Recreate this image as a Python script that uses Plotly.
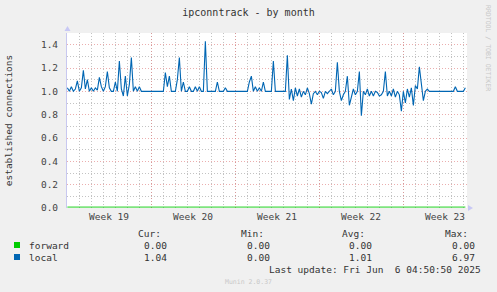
import numpy as np
import plotly.graph_objects as go

# ---- data (4-hour samples) ----
local = [
    1.03, 1.00, 1.04, 1.00, 1.02, 1.09, 1.00, 1.03, 1.18, 1.02,
    1.10, 1.00, 1.03, 1.00, 1.03, 1.01, 1.12, 1.04, 1.00, 1.04,
    1.17, 1.03, 1.00, 1.00, 1.08, 1.00, 1.26, 1.02, 0.96, 1.13,
    0.96, 1.06, 1.29, 1.00, 1.04, 1.00, 1.04, 1.00, 1.00, 1.00,
    1.00, 1.00, 1.00, 1.00, 1.00, 1.00, 1.00, 1.00, 1.00, 1.16,
    1.04, 1.13, 1.00, 1.00, 1.00, 1.10, 1.29, 1.00, 1.08, 1.00,
    1.00, 1.04, 1.00, 1.00, 1.04, 1.00, 1.04, 1.00, 1.00, 1.43,
    1.00, 1.00, 1.00, 1.00, 1.00, 1.08, 1.00, 1.00, 1.00, 1.03,
    1.00, 1.00, 1.00, 1.00, 1.00, 1.00, 1.00, 1.00, 1.00, 1.00,
    1.00, 1.08, 1.13, 1.00, 1.04, 1.00, 1.03, 1.00, 1.08, 1.00,
    1.00, 1.00, 1.00, 1.26, 1.00, 1.00, 1.00, 1.00, 1.00, 1.00,
    1.31, 0.93, 1.02, 0.92, 1.03, 0.96, 1.02, 0.95, 1.00, 0.97,
    1.03, 0.98, 0.89, 0.98, 1.00, 0.97, 1.00, 0.99, 0.94, 1.00,
    0.98, 1.00, 1.02, 0.97, 1.00, 1.25, 1.00, 0.92, 0.97, 1.00,
    1.13, 0.88, 0.96, 1.02, 0.97, 1.00, 1.17, 0.79, 1.00, 0.97,
    1.02, 0.96, 1.00, 0.96, 1.00, 0.99, 0.96, 0.97, 1.00, 1.17,
    0.96, 1.00, 0.96, 1.02, 0.95, 1.00, 0.97, 0.83, 1.00, 0.90,
    1.02, 0.95, 1.03, 0.88, 1.05, 1.02, 1.21, 1.08, 0.92, 1.00,
    1.02, 1.00, 1.00, 1.00, 1.00, 1.00, 1.00, 1.00, 1.00, 1.00,
    1.00, 1.00, 1.00, 1.00, 1.04, 1.00, 1.00, 1.00, 1.00, 1.03,
]
forward = [0.00] * len(local)
sample_days = 4 / 24.0           # sample step in days
time_days = np.arange(len(local)) * sample_days + 0.03

week_starts = [0, 7, 14, 21, 28]
week_labels = ["Week 19", "Week 20", "Week 21", "Week 22", "Week 23"]
x_span_days = 400 / 12.0

stat_headers = ["Cur:", "Min:", "Avg:", "Max:"]
stats_forward = ["0.00", "0.00", "0.00", "0.00"]
stats_local = ["1.04", "0.00", "1.01", "6.97"]
series_names = ["forward", "local"]
series_colors = ["#00cc00", "#0066b3"]

# ---- layout geometry (pixels) ----
W, H = 497, 292
L, R, T, B = 67, 30, 33, 84
PW, PH = W - L - R, H - T - B


def px(x):
    return (x - L) / PW


def py(y):
    return (H - B - y) / PH


FONT = "DejaVu Sans Mono"
TXT = "#333333"

fig = go.Figure()
fig.add_trace(go.Scatter(x=time_days, y=forward, mode="lines", name="forward",
                         line=dict(color=series_colors[0], width=3.5), opacity=0.5,
                         showlegend=False, hoverinfo="skip"))
fig.add_trace(go.Scatter(x=time_days, y=local, mode="lines", name="local",
                         line=dict(color=series_colors[1], width=1.1),
                         showlegend=False))
# carrier trace for the label axis
fig.add_trace(go.Scatter(x=[None], y=[None], xaxis="x2", showlegend=False,
                         hoverinfo="skip"))

grid_major = "rgba(225,130,130,0.65)"
grid_minor = "rgba(180,180,180,0.8)"
dash = "1px,2px"

fig.update_layout(
    width=W, height=H,
    margin=dict(l=L, r=R, t=T, b=B, autoexpand=False),
    paper_bgcolor="#f0f0f0", plot_bgcolor="#ffffff",
    font=dict(family=FONT, size=9.5, color=TXT),
    showlegend=False,
    title=dict(text="ipconntrack - by month", x=0.5, xanchor="center",
               y=1 - 12.5 / H, yanchor="middle",
               font=dict(family=FONT, size=10, color=TXT)),
    xaxis=dict(range=[0, x_span_days], tickmode="array", tickvals=week_starts,
               showticklabels=False, ticks="", showgrid=True,
               gridcolor=grid_major, griddash=dash, gridwidth=1,
               zeroline=False, showline=False,
               minor=dict(dtick=1, tick0=0, showgrid=True, gridcolor=grid_minor,
                          griddash=dash, gridwidth=1)),
    xaxis2=dict(range=[0, x_span_days], overlaying="x", side="bottom",
                anchor="y", tickmode="array",
                tickvals=[w + 3.5 for w in week_starts], ticktext=week_labels,
                showgrid=False, zeroline=False, ticks="",
                tickfont=dict(family=FONT, size=9.5, color="#444444"),
                ticklabelstandoff=1),
    yaxis=dict(range=[0, 1.5], tick0=0, dtick=0.2, tickformat=".1f",
               showgrid=True, gridcolor=grid_major, griddash=dash, gridwidth=1,
               minor=dict(dtick=0.1, tick0=0, showgrid=True, gridcolor=grid_minor,
                          griddash=dash, gridwidth=1),
               zeroline=False, showline=True, linecolor="#c8c8f0", linewidth=1,
               ticks="", ticklabelstandoff=6,
               tickfont=dict(family=FONT, size=9.5, color="#444444"),
               title=dict(text="established connections", standoff=26,
                          font=dict(family=FONT, size=9.5, color=TXT))),
)

ann = []
shapes = []

# axis arrows
shapes.append(dict(type="path", xref="paper", yref="paper",
                   path=f"M {px(64.5)} {py(31)} L {px(70.5)} {py(31)} L {px(67.5)} {py(26)} Z",
                   fillcolor="#c8c8f5", line=dict(width=0)))
shapes.append(dict(type="path", xref="paper", yref="paper",
                   path=f"M {px(468)} {py(205)} L {px(468)} {py(211)} L {px(473)} {py(208)} Z",
                   fillcolor="#c8c8f5", line=dict(width=0)))

# legend table
header_right = [163, 266, 367, 470]
value_right = [169, 272, 374, 477]
for hx, h in zip(header_right, stat_headers):
    ann.append(dict(text=h, x=px(hx), y=py(233.5), xanchor="right", yanchor="middle"))
for row_y, name, color, stats in zip([245, 257], series_names, series_colors,
                                     [stats_forward, stats_local]):
    shapes.append(dict(type="rect", xref="paper", yref="paper",
                       x0=px(14), x1=px(20), y0=py(row_y - 3), y1=py(row_y + 3),
                       fillcolor=color, line=dict(width=0)))
    ann.append(dict(text=name, x=px(26.5), y=py(row_y), xanchor="left", yanchor="middle"))
    for vx, v in zip(value_right, stats):
        ann.append(dict(text=v, x=px(vx), y=py(row_y), xanchor="right", yanchor="middle"))

ann.append(dict(text="Last update: Fri Jun \u00a06 04:50:50 2025", x=px(482.5), y=py(269.5),
                xanchor="right", yanchor="middle"))
ann.append(dict(text="Munin 2.0.37", x=px(248), y=py(281.5), xanchor="center",
                yanchor="middle", font=dict(family=FONT, size=6.5, color="#c8c8c8")))
ann.append(dict(text="RRDTOOL / TOBI OETIKER", x=px(488), y=py(48), xanchor="center",
                yanchor="middle", textangle=90,
                font=dict(family=FONT, size=6.5, color="#c8c8c8")))

for a in ann:
    a.setdefault("xref", "paper")
    a.setdefault("yref", "paper")
    a.setdefault("showarrow", False)
    a.setdefault("font", dict(family=FONT, size=9.5, color=TXT))

fig.update_layout(annotations=ann, shapes=shapes)
fig.write_html("out.html")
